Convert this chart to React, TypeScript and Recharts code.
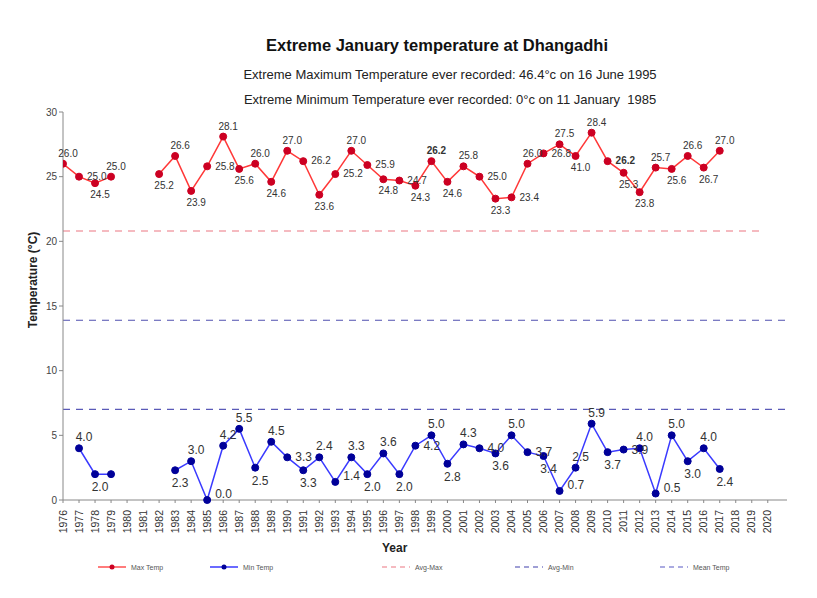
import React from "react"
import { LineChart, Line, XAxis, YAxis, ReferenceLine, LabelList } from "recharts"

// ── Data ─────────────────────────────────────────────────────────────
const years = [
  1976, 1977, 1978, 1979, 1980, 1981, 1982, 1983, 1984, 1985, 1986, 1987, 1988, 1989,
  1990, 1991, 1992, 1993, 1994, 1995, 1996, 1997, 1998, 1999, 2000, 2001, 2002, 2003,
  2004, 2005, 2006, 2007, 2008, 2009, 2010, 2011, 2012, 2013, 2014, 2015, 2016, 2017,
]

const maxTemp = [
  26.0, 25.0, 24.5, 25.0, null, null, 25.2, 26.6, 23.9, 25.8, 28.1, 25.6, 26.0, 24.6,
  27.0, 26.2, 23.6, 25.2, 27.0, 25.9, 24.8, 24.7, 24.3, 26.2, 24.6, 25.8, 25.0, 23.3,
  23.4, 26.0, 26.8, 27.5, 26.6, 28.4, 26.2, 25.3, 23.8, 25.7, 25.6, 26.6, 25.7, 27.0,
]

// labels as printed on the original chart
const maxLabels = [
  "26.0", "25.0", "24.5", "25.0", "", "", "25.2", "26.6", "23.9", "25.8", "28.1", "25.6", "26.0", "24.6",
  "27.0", "26.2", "23.6", "25.2", "27.0", "25.9", "24.8", "24.7", "24.3", "26.2", "24.6", "25.8", "25.0", "23.3",
  "23.4", "26.0", "26.8", "27.5", "41.0", "28.4", "26.2", "25.3", "23.8", "25.7", "25.6", "26.6", "26.7", "27.0",
]

const minTemp = [
  null, 4.0, 2.0, 2.0, null, null, null, 2.3, 3.0, 0.0, 4.2, 5.5, 2.5, 4.5,
  3.3, 2.3, 3.3, 1.4, 3.3, 2.0, 3.6, 2.0, 4.2, 5.0, 2.8, 4.3, 4.0, 3.6,
  5.0, 3.7, 3.4, 0.7, 2.5, 5.9, 3.7, 3.9, 4.0, 0.5, 5.0, 3.0, 4.0, 2.4,
]

const minLabels = [
  "", "4.0", "2.0", "", "", "", "", "2.3", "3.0", "0.0", "4.2", "5.5", "2.5", "4.5",
  "3.3", "3.3", "2.4", "1.4", "3.3", "2.0", "3.6", "2.0", "4.2", "5.0", "2.8", "4.3", "4.0", "3.6",
  "5.0", "3.7", "3.4", "0.7", "2.5", "5.9", "3.7", "3.9", "4.0", "0.5", "5.0", "3.0", "4.0", "2.4",
]

const boldMaxYears = [1999, 2010]

const axisYears = [
  1976, 1977, 1978, 1979, 1980, 1981, 1982, 1983, 1984, 1985, 1986, 1987, 1988, 1989,
  1990, 1991, 1992, 1993, 1994, 1995, 1996, 1997, 1998, 1999, 2000, 2001, 2002, 2003,
  2004, 2005, 2006, 2007, 2008, 2009, 2010, 2011, 2012, 2013, 2014, 2015, 2016, 2017,
  2018, 2019, 2020,
]
const yTicks = [0, 5, 10, 15, 20, 25, 30]

const avgMax = 20.8
const avgMin = 7.0
const meanTemp = 13.9

const data = years.map((year, i) => ({
  year,
  max: maxTemp[i],
  min: minTemp[i],
  maxLabel: maxLabels[i],
  minLabel: minLabels[i],
}))

// ── Helpers ──────────────────────────────────────────────────────────
const FONT = "'Liberation Sans', Arial, sans-serif"

type Pos = "top" | "bottom" | "right"

function basePlacement(values: (number | null)[], i: number): Pos {
  const v = values[i] as number
  const p = i > 0 ? values[i - 1] : null
  const n = i < values.length - 1 ? values[i + 1] : null
  const higher = (p == null || v >= p) && (n == null || v >= n)
  const lower = (p == null || v <= p) && (n == null || v <= n)
  if (higher && !lower) return "top"
  if (lower && !higher) return v < 1.5 ? "right" : "bottom"
  return "right"
}

// deux étiquettes "right" de suite se chevauchent : on bascule la seconde
function placements(values: (number | null)[]): Pos[] {
  const out: Pos[] = []
  values.forEach((v, i) => {
    if (v == null) {
      out.push("right")
      return
    }
    let pos = basePlacement(values, i)
    const prev = i > 0 && values[i - 1] != null ? out[i - 1] : null
    if (pos === "right" && prev === "right") {
      pos = (values[i - 1] as number) > v ? "bottom" : "top"
    }
    out.push(pos)
  })
  return out
}

function makeLabel(values: (number | null)[], fontSize: number, boldYears: number[] = []) {
  const pos = placements(values)
  return (props: any) => {
    const { x, y, value, index } = props
    if (!value || x == null || y == null) return null
    const p = pos[index]
    const bold = boldYears.includes(years[index])
    let tx = x + 8
    let ty = y + fontSize / 3
    let anchor: "start" | "middle" = "start"
    if (p === "top") {
      tx = x + 5
      ty = y - 7
      anchor = "middle"
    } else if (p === "bottom") {
      tx = x + 5
      ty = y + fontSize + 5
      anchor = "middle"
    } else if ((values[index] as number) < 1.5) {
      ty = y - 2
    }
    return (
      <text
        x={tx}
        y={ty}
        textAnchor={anchor}
        fontSize={fontSize}
        fontFamily={FONT}
        fontWeight={bold ? "bold" : "normal"}
        fill="#333"
      >
        {value}
      </text>
    )
  }
}

function YearTick(props: any) {
  const { x, y, payload } = props
  return (
    <g transform={`translate(${x},${y})`}>
      <text
        transform="rotate(-90)"
        x={-5}
        y={3.5}
        textAnchor="end"
        fontSize={10.5}
        fontFamily={FONT}
        fill="#333"
      >
        {payload.value}
      </text>
    </g>
  )
}

function LegendItem({
  left,
  label,
  color,
  dot,
  dashed,
}: {
  left: number
  label: string
  color: string
  dot?: string
  dashed?: boolean
}) {
  return (
    <div style={{ position: "absolute", left, top: 554, display: "flex", alignItems: "center" }}>
      <svg width={32} height={10}>
        <line
          x1={2}
          y1={5}
          x2={30}
          y2={5}
          stroke={color}
          strokeWidth={1.5}
          strokeDasharray={dashed ? "5 4" : undefined}
        />
        {dot && <circle cx={16} cy={5} r={2.5} fill={dot} />}
      </svg>
      <span style={{ fontSize: 7, color: "#555", fontFamily: FONT, marginLeft: 3 }}>{label}</span>
    </div>
  )
}

// ── Component ────────────────────────────────────────────────────────
export default function App() {
  return (
    <div style={{ position: "relative", width: 800, height: 580, background: "#fff", fontFamily: FONT }}>
      <div style={{ position: "absolute", left: -1, top: 0, width: 1, height: 580, background: "#b0b0b0" }} />

      <div
        style={{
          position: "absolute",
          left: 0,
          width: 858,
          top: 28,
          textAlign: "center",
          fontSize: 16.5,
          fontWeight: "bold",
          color: "#111",
          whiteSpace: "nowrap",
        }}
      >
        Extreme January temperature at Dhangadhi
      </div>
      <div
        style={{
          position: "absolute",
          left: 0,
          width: 884,
          top: 59,
          textAlign: "center",
          fontSize: 13,
          color: "#222",
          whiteSpace: "nowrap",
        }}
      >
        Extreme Maximum Temperature ever recorded: 46.4°c on 16 June 1995
      </div>
      <div
        style={{
          position: "absolute",
          left: 0,
          width: 884,
          top: 84,
          textAlign: "center",
          fontSize: 13,
          color: "#222",
          whiteSpace: "nowrap",
        }}
      >
        Extreme Minimum Temperature ever recorded: 0°c on 11 January&nbsp; 1985
      </div>

      <div
        style={{
          position: "absolute",
          left: 25,
          top: 272,
          transform: "translate(-50%, -50%) rotate(-90deg)",
          fontSize: 12,
          fontWeight: "bold",
          color: "#222",
          whiteSpace: "nowrap",
        }}
      >
        Temperature (°C)
      </div>
      <div
        style={{
          position: "absolute",
          left: 374,
          top: 533,
          fontSize: 12,
          fontWeight: "bold",
          color: "#222",
        }}
      >
        Year
      </div>

      <LineChart
        width={800}
        height={580}
        data={data}
        margin={{ top: 104, right: 21, left: 15, bottom: 48 }}
      >
        <XAxis
          dataKey="year"
          type="number"
          domain={[1976, 2021.2]}
          ticks={axisYears}
          interval={0}
          allowDataOverflow
          tick={<YearTick />}
          tickSize={3}
          height={40}
          axisLine={{ stroke: "#888" }}
          tickLine={{ stroke: "#888" }}
        />
        <YAxis
          domain={[0, 30]}
          ticks={yTicks}
          width={40}
          tickSize={4}
          tick={{ fontSize: 10, fill: "#444", fontFamily: FONT }}
          axisLine={{ stroke: "#888" }}
          tickLine={{ stroke: "#888" }}
        />
        <ReferenceLine
          segment={[
            { x: 1976, y: avgMax },
            { x: 2019.7, y: avgMax },
          ]}
          stroke="#f2a4ac"
          strokeDasharray="7 6"
          strokeWidth={1.3}
        />
        <ReferenceLine y={meanTemp} stroke="#5050b0" strokeDasharray="7 6" strokeWidth={1.2} />
        <ReferenceLine y={avgMin} stroke="#5a5ab8" strokeDasharray="7 6" strokeWidth={1.2} />
        <Line
          dataKey="max"
          stroke="#ff3838"
          strokeWidth={1.5}
          dot={{ r: 3.5, fill: "#cc0022", stroke: "#cc0022", strokeWidth: 1 }}
          isAnimationActive={false}
        >
          <LabelList dataKey="maxLabel" content={makeLabel(maxTemp, 10, boldMaxYears)} />
        </Line>
        <Line
          dataKey="min"
          stroke="#3a3aff"
          strokeWidth={1.5}
          dot={{ r: 3.5, fill: "#000099", stroke: "#000099", strokeWidth: 1 }}
          isAnimationActive={false}
        >
          <LabelList dataKey="minLabel" content={makeLabel(minTemp, 12)} />
        </Line>
      </LineChart>

      <LegendItem left={88} label="Max Temp" color="#ff5050" dot="#cc0022" />
      <LegendItem left={200} label="Min Temp" color="#3a3aff" dot="#000099" />
      <LegendItem left={372} label="Avg-Max" color="#f2a4ac" dashed />
      <LegendItem left={505} label="Avg-Min" color="#8080c8" dashed />
      <LegendItem left={650} label="Mean Temp" color="#9090d8" dashed />
    </div>
  )
}
